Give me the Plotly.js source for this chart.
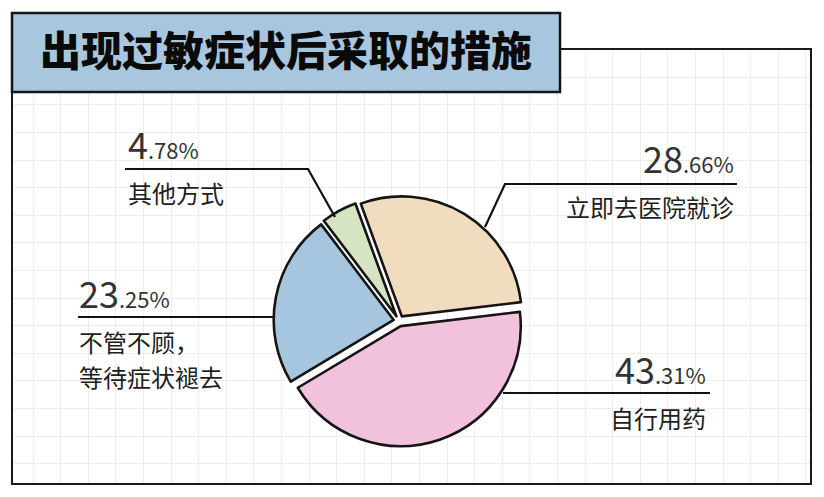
<!DOCTYPE html>
<html>
<head>
<meta charset="utf-8">
<script src="https://cdn.plot.ly/plotly-3.0.1.min.js"></script>
<style>
  body { margin: 0; background: #fff; }
  #chart { width: 824px; height: 497px; }
</style>
</head>
<body>
<div id="chart"></div>
<script>
// data
let categories = ["立即去医院就诊", "自行用药", "不管不顾，<br>等待症状褪去", "其他方式"];
let shares = [28.66, 43.31, 23.25, 4.78];
let chartTitle = "出现过敏症状后采取的措施";

// styles
let sliceColors = ["#f1dcc0", "#f2c1dc", "#a6c5de", "#d5e4c1"];
let fontCJK = "Noto Sans CJK SC, Noto Sans, sans-serif";

// page is 824 x 497, work in pixels and convert to paper fractions
const W = 824, H = 497;
let px = x => x / W;
let py = y => 1 - y / H;

// where each label sits (pixels)
let labelSpots = [
  { side: "right", x: 736, numBase: 172, textMid: 206, lead: [[737, 184], [505, 184], [485, 227]] },
  { side: "right", x: 708, numBase: 383, textMid: 417, lead: [[710, 393], [503, 393]] },
  { side: "left",  x: 77,  numBase: 307, textMid: 341, lead: [[78, 317], [273, 317]] },
  { side: "left",  x: 126, numBase: 158, textMid: 192, lead: [[125, 169], [308, 169], [335, 217]] }
];

// pie geometry
let cx = 399, cy = 321, r = 120, pullAmt = 0.045;
let half = r * (1 + pullAmt);

let pieTrace = {
  type: "pie",
  labels: categories,
  values: shares,
  sort: false,
  direction: "clockwise",
  rotation: -20,
  pull: shares.map(() => pullAmt),
  textinfo: "none",
  hoverinfo: "label+percent",
  showlegend: false,
  marker: { colors: sliceColors, line: { color: "#151515", width: 2.6 } },
  domain: { x: [px(cx - half), px(cx + half)], y: [py(cy + half), py(cy - half)] }
};

// empty trace so the grid axes get drawn
let gridTrace = { type: "scatter", x: [], y: [], showlegend: false, hoverinfo: "skip" };

let annotations = [];
let shapes = [];

for (let i = 0; i < shares.length; i++) {
  let spot = labelSpots[i];
  let parts = shares[i].toFixed(2).split(".");
  let anchor = spot.side === "left" ? "left" : "right";

  annotations.push({
    xref: "paper", yref: "paper",
    x: px(spot.x), y: py(spot.numBase - 15),
    xanchor: anchor, yanchor: "middle",
    showarrow: false,
    text: `<span style="font-size:36px">${parts[0]}</span><span style="font-size:22px">.${parts[1]}%</span>`,
    font: { family: fontCJK, color: "#333333", size: 22 }
  });

  let lines = categories[i].split("<br>");
  for (let k = 0; k < lines.length; k++) {
    annotations.push({
      xref: "paper", yref: "paper",
      x: px(spot.x), y: py(spot.textMid + k * 35),
      xanchor: anchor, yanchor: "middle",
      showarrow: false,
      text: lines[k],
      font: { family: fontCJK, color: "#1e1e1e", size: 24 }
    });
  }

  let path = spot.lead.map((p, j) => (j === 0 ? "M" : "L") + px(p[0]) + "," + py(p[1])).join(" ");
  shapes.push({
    type: "path", xref: "paper", yref: "paper", path: path,
    line: { color: "#111111", width: 2.2 }, layer: "above"
  });
}

// outer frame and title box
shapes.push({
  type: "rect", xref: "paper", yref: "paper",
  x0: px(12), x1: px(811), y0: py(484), y1: py(49),
  line: { color: "#1a1a1a", width: 2 }, layer: "above"
});
shapes.push({
  type: "rect", xref: "paper", yref: "paper",
  x0: px(12), x1: px(560), y0: py(92), y1: py(13),
  fillcolor: "#a8c7df", line: { color: "#151515", width: 2.5 }, layer: "above"
});

let layout = {
  width: W, height: H,
  margin: { l: 0, r: 0, t: 0, b: 0 },
  paper_bgcolor: "#ffffff",
  plot_bgcolor: "#ffffff",
  title: {
    text: chartTitle,
    font: { family: fontCJK, size: 41, weight: 900, color: "#0a0a0a" },
    xref: "paper", yref: "paper",
    x: px(40), xanchor: "left",
    y: py(52), yanchor: "middle"
  },
  xaxis: {
    domain: [px(12), px(811)], range: [12, 811],
    tick0: 585, dtick: 27.6,
    showgrid: true, gridcolor: "#ededed", gridwidth: 1,
    zeroline: false, showticklabels: false, ticks: "", showline: false, fixedrange: true
  },
  yaxis: {
    domain: [py(484), py(49)], range: [484, 49],
    tick0: 353.3, dtick: 27.6,
    showgrid: true, gridcolor: "#ededed", gridwidth: 1,
    zeroline: false, showticklabels: false, ticks: "", showline: false, fixedrange: true
  },
  annotations: annotations,
  shapes: shapes
};

Plotly.newPlot("chart", [gridTrace, pieTrace], layout, { displayModeBar: false, staticPlot: true });
</script>
</body>
</html>
